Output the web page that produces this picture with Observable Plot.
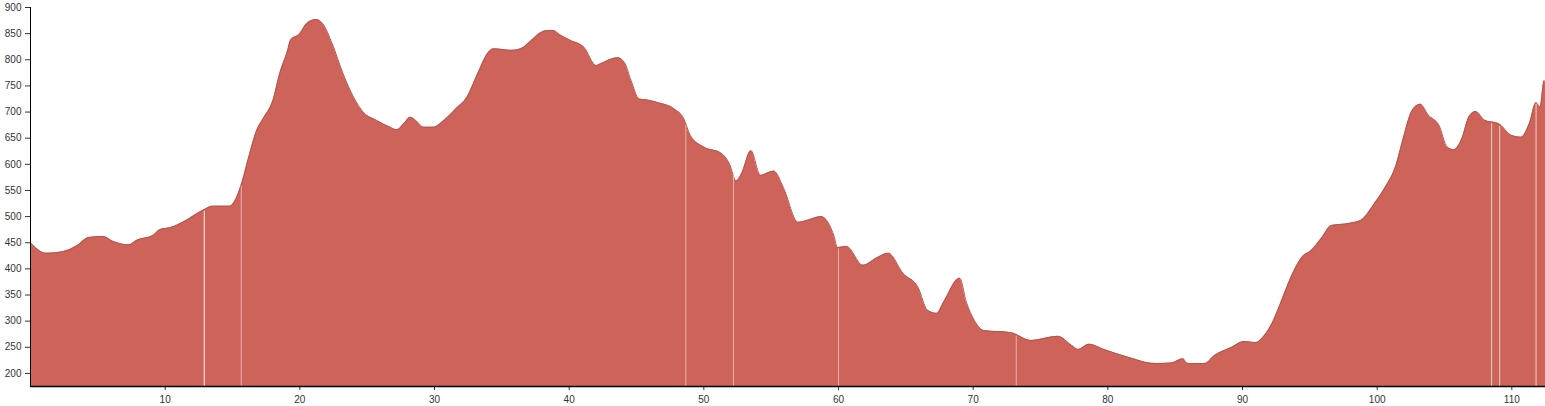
<!DOCTYPE html>
<html>
<head>
<meta charset="utf-8">
<script src="https://cdn.jsdelivr.net/npm/d3@7"></script>
<script src="https://cdn.jsdelivr.net/npm/@observablehq/plot@0.6"></script>
<style>
  html, body { margin: 0; padding: 0; background: #fff; }
  svg { display: block; }
</style>
</head>
<body>
<div id="chart"></div>
<script>
// Distance along route (km)
const km = [0, 0.4, 1.1, 2.4, 3.5, 4.3, 5.4, 6.1, 7.3, 7.9, 9.1, 9.6, 10.4, 11.3, 12.8, 13.5, 14.8, 15.2, 15.7, 16.2,
  16.8, 17.3, 18.0, 18.5, 19.1, 19.3, 20.0, 20.5, 21.2, 21.7, 22.4, 23.2, 24.0, 24.7, 25.7, 26.7, 27.2, 27.8, 28.2, 28.6,
  29.2, 29.9, 30.7, 31.7, 32.4, 33.2, 34.0, 34.4, 35.7, 36.4, 37.2, 37.9, 38.4, 38.8, 39.3, 40.1, 41.1, 42.0, 42.3, 43.6,
  44.1, 44.6, 45.2, 45.8, 46.6, 47.8, 48.5, 49.0, 50.0, 51.3, 51.9, 52.4, 52.8, 53.5, 54.2, 55.2, 55.9, 57.0, 57.7, 58.7,
  59.7, 59.9, 60.6, 61.8, 62.9, 63.7, 64.8, 65.9, 66.6, 67.3, 67.8, 69.0, 69.5, 70.1, 70.8, 72.8, 74.3, 76.3, 77.3, 77.8,
  78.6, 79.7, 81.5, 83.5, 84.7, 85.6, 85.8, 86.0, 87.2, 87.9, 89.2, 90.1, 91.0, 91.4, 92.2, 92.9, 93.6, 94.4, 95.1, 95.9,
  96.6, 97.9, 98.8, 99.8, 100.6, 101.4, 101.9, 102.6, 103.2, 103.8, 104.6, 105.2, 105.7, 106.3, 106.8, 107.3, 108.0, 109.0, 110.0, 110.7,
  111.3, 111.8, 112.1, 112.4, 112.5];
// Elevation (m)
const elevation = [450, 440, 430, 433, 445, 460, 462, 453, 446, 455, 464, 475, 479, 489, 512, 520, 520, 531, 565, 613,
  665, 688, 722, 773, 818, 837, 850, 869, 877, 869, 831, 774, 728, 700, 684, 671, 666, 680, 690, 684,
  671, 671, 684, 709, 728, 773, 814, 821, 818, 821, 837, 852, 856, 856, 848, 837, 824, 789, 792, 804,
  795, 760, 725, 723, 718, 706, 688, 655, 633, 621, 601, 568, 582, 626, 579, 587, 556, 489, 493, 500,
  460, 441, 443, 407, 422, 430, 391, 365, 321, 315, 336, 382, 336, 301, 282, 278, 263, 271, 254, 246,
  256, 246, 231, 219, 220, 228, 221, 219, 219, 234, 250, 261, 259, 266, 296, 339, 384, 422, 435, 460,
  483, 487, 493, 525, 556, 598, 646, 703, 715, 694, 674, 633, 628, 650, 690, 701, 684, 678, 655, 652,
  678, 718, 709, 760, 754];
// Positions of the thin light gaps in the profile (km)
const gaps = [12.9, 15.65, 48.66, 52.2, 60.0, 73.2, 108.5, 109.1, 111.8];
const gapOpacity = [0.9, 0.5, 0.5, 0.5, 0.5, 0.5, 0.7, 0.7, 0.7];
// Tick labels
const xTicks = [10, 20, 30, 40, 50, 60, 70, 80, 90, 100, 110];
const yTicks = d3.range(200, 901, 50);
const yMin = 175, yMax = 900, xMax = 112.5;

const profile = km.map((k, i) => ({km: k, elev: elevation[i]}));
const interp = (k) => {
  const i = d3.bisectRight(km, k);
  if (i <= 0) return elevation[0];
  if (i >= km.length) return elevation[km.length - 1];
  const t = (k - km[i - 1]) / (km[i] - km[i - 1]);
  return elevation[i - 1] + t * (elevation[i] - elevation[i - 1]);
};
const gapData = gaps.map((g, i) => ({km: g, top: interp(g) - 3, op: gapOpacity[i]}));

const fillColor = "#cd6359";

const chart = Plot.plot({
  width: 1545,
  height: 406,
  marginLeft: 30,
  marginRight: 0,
  marginTop: 7,
  marginBottom: 20,
  style: {fontFamily: "'Liberation Sans', Arial, sans-serif", fontSize: "10px", color: "#333", background: "#fff"},
  x: {domain: [0, xMax], ticks: xTicks, tickSize: 4, label: null, tickFormat: d => String(d)},
  y: {domain: [yMin, yMax], ticks: yTicks, tickSize: 5, label: null, tickFormat: d => String(d)},
  marks: [
    Plot.areaY(profile, {x: "km", y1: yMin, y2: "elev", fill: fillColor, curve: "monotone-x"}),
    Plot.lineY(profile, {x: "km", y: "elev", stroke: "#b9544b", strokeWidth: 1, curve: "monotone-x"}),
    Plot.ruleX(gapData, {x: "km", y1: yMin, y2: "top", stroke: "#ffffff", strokeOpacity: "op", strokeWidth: 1}),
    Plot.ruleX([0], {stroke: "#000", strokeWidth: 1}),
    Plot.ruleY([yMin], {stroke: "#000", strokeWidth: 1.5})
  ]
});
document.getElementById("chart").appendChild(chart);
</script>
</body>
</html>
